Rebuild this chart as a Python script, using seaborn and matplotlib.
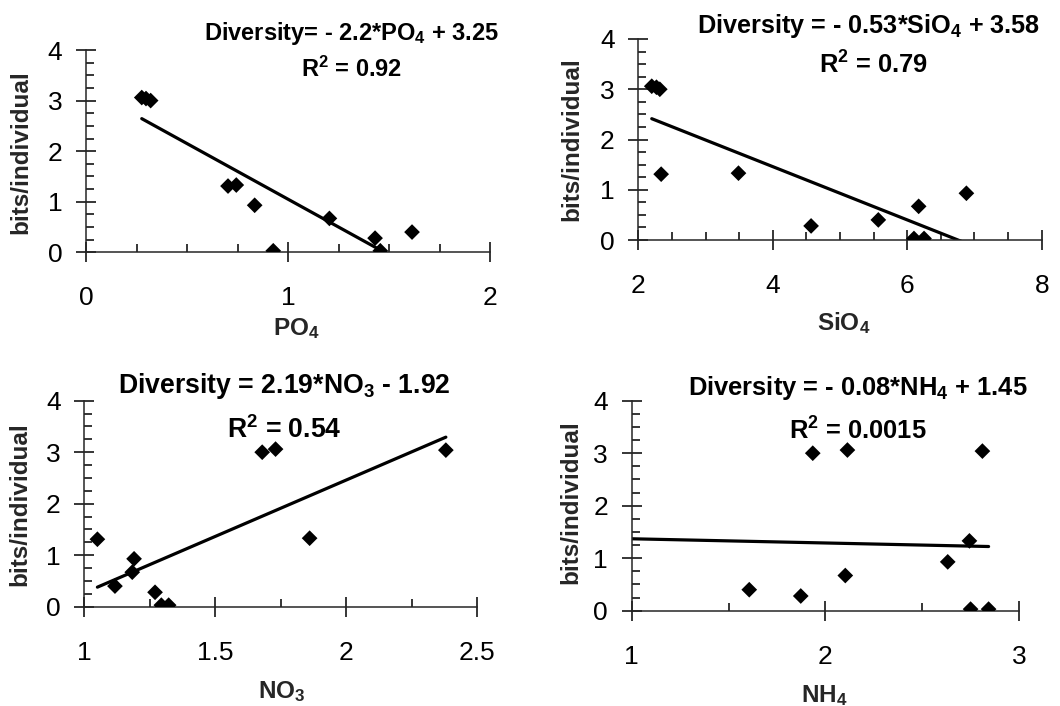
import numpy as np
import pandas as pd
import seaborn as sns
import matplotlib
matplotlib.use("Agg")
import matplotlib.pyplot as plt
from matplotlib.ticker import MultipleLocator, FuncFormatter

# Shannon diversity (bits/individual) at each station
diversity = [3.06, 3.04, 3.00, 1.33, 1.31, 0.93, 0.67, 0.40, 0.28, 0.03, 0.03]

# Nutrient concentrations at the same stations
po4 = [0.276, 0.297, 0.320, 0.744, 0.703, 0.835, 1.205, 1.614, 1.431, 0.927, 1.457]
sio4 = [2.20, 2.27, 2.32, 3.49, 2.34, 6.88, 6.17, 5.57, 4.57, 6.10, 6.25]
no3 = [1.730, 2.380, 1.679, 1.860, 1.050, 1.190, 1.183, 1.117, 1.270, 1.294, 1.322]
nh4 = [2.114, 2.811, 1.935, 2.744, 0.90, 2.632, 2.103, 1.607, 1.873, 2.750, 2.843]

# Linear fits: slope, intercept, R^2
fits = {
    "PO4": (-2.2, 3.25, "0.92"),
    "SiO4": (-0.53, 3.58, "0.79"),
    "NO3": (2.19, -1.92, "0.54"),
    "NH4": (-0.08, 1.45, "0.0015"),
}

sns.set_theme(style="ticks")
plt.rcParams["font.family"] = ["Liberation Sans", "DejaVu Sans"]
plt.rcParams["mathtext.default"] = "regular"
plt.rcParams["axes.linewidth"] = 1.1

fig = plt.figure(figsize=(10.6, 7.06), dpi=100)
W, H = 1060, 706


def px_axes(left, right, top, bottom):
    return fig.add_axes([left / W, 1 - bottom / H, (right - left) / W, (bottom - top) / H])


panels = [
    dict(key="PO4", x=po4, box=(86, 490, 50, 252.3), xlim=(0, 2), major=1, minor=0.25,
         xlabel="PO$_4$", xl=(0.520, -0.409), yl=(-0.162, 0.493),
         eq="Diversity= - 2.2*PO$_4$ + 3.25", eqsize=17, r2size=17,
         eqpos=(0.657, 1.049), r2pos=(0.658, 0.868)),
    dict(key="SiO4", x=sio4, box=(638.3, 1041.7, 39, 240), xlim=(2, 8), major=2, minor=0.5,
         xlabel="SiO$_4$", xl=(0.509, -0.448), yl=(-0.165, 0.50),
         eq="Diversity = - 0.53*SiO$_4$ + 3.58", eqsize=18.2, r2size=18.4,
         eqpos=(0.572, 1.028), r2pos=(0.584, 0.826)),
    dict(key="NO3", x=no3, box=(84.3, 477.3, 400.7, 606.7), xlim=(1, 2.5), major=0.5, minor=0.25,
         xlabel="NO$_3$", xl=(0.503, -0.443), yl=(-0.164, 0.496),
         eq="Diversity = 2.19*NO$_3$ - 1.92", eqsize=19.2, r2size=19.2,
         eqpos=(0.509, 1.036), r2pos=(0.508, 0.820)),
    dict(key="NH4", x=nh4, box=(631.7, 1019, 400.7, 610.7), xlim=(1, 3), major=1, minor=0.5,
         xlabel="NH$_4$", xl=(0.4965, -0.435), yl=(-0.157, 0.515),
         eq="Diversity = - 0.08*NH$_4$ + 1.45", eqsize=18.4, r2size=18.4,
         eqpos=(0.583, 1.027), r2pos=(0.583, 0.816)),
]

for p in panels:
    ax = px_axes(*p["box"])
    df = pd.DataFrame({"nutrient": p["x"], "diversity": diversity})
    sns.scatterplot(data=df, x="nutrient", y="diversity", ax=ax, marker="D",
                    s=64, color="black", edgecolor="none", zorder=3)

    slope, intercept, r2 = fits[p["key"]]
    xs = np.array([df["nutrient"].min(), df["nutrient"].max()])
    line = pd.DataFrame({"nutrient": xs, "fit": slope * xs + intercept})
    sns.lineplot(data=line, x="nutrient", y="fit", ax=ax, color="black",
                 linewidth=2.3, zorder=2)

    ax.set_xlim(*p["xlim"])
    ax.set_ylim(0, 4)
    sns.despine(ax=ax)
    ax.patch.set_alpha(0)

    ax.xaxis.set_major_locator(MultipleLocator(p["major"]))
    ax.xaxis.set_minor_locator(MultipleLocator(p["minor"]))
    ax.yaxis.set_major_locator(MultipleLocator(1))
    ax.yaxis.set_minor_locator(MultipleLocator(0.25))
    ax.xaxis.set_major_formatter(FuncFormatter(lambda v, _: f"{v:g}"))
    ax.yaxis.set_major_formatter(FuncFormatter(lambda v, _: f"{v:g}"))

    ax.tick_params(which="major", direction="inout", length=14, width=1.1,
                   labelsize=19, color="black", labelcolor="black")
    ax.tick_params(axis="x", which="major", pad=17.5)
    ax.tick_params(axis="y", which="major", pad=10)
    ax.tick_params(which="minor", direction="in", length=5.5, width=1.1, color="black")

    ax.set_xlabel(p["xlabel"], fontsize=17.5, fontweight="bold", va="baseline")
    ax.xaxis.set_label_coords(*p["xl"])
    ax.set_ylabel("bits/individual", fontsize=17.5, fontweight="bold", va="center")
    ax.yaxis.set_label_coords(*p["yl"])

    ax.text(*p["eqpos"], p["eq"], transform=ax.transAxes, ha="center", va="baseline",
            fontsize=p["eqsize"], fontweight="bold", color="black")
    ax.text(*p["r2pos"], f"R$^2$ = {r2}", transform=ax.transAxes, ha="center",
            va="baseline", fontsize=p["r2size"], fontweight="bold", color="black")

fig.savefig("out.png", dpi=100, facecolor="white")
